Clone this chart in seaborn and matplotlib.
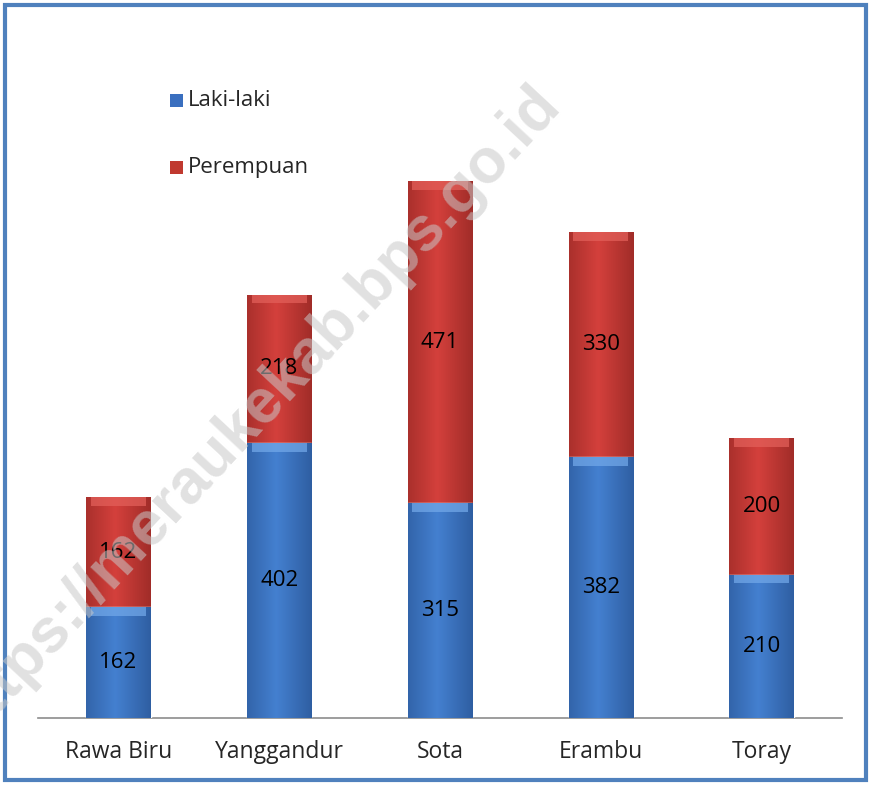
import matplotlib
matplotlib.use("Agg")
import matplotlib.pyplot as plt
from matplotlib.patches import Rectangle
import numpy as np
import pandas as pd
import seaborn as sns

# data
desa = ["Rawa Biru", "Yanggandur", "Sota", "Erambu", "Toray"]
laki = [162, 402, 315, 382, 210]
perempuan = [162, 218, 471, 330, 200]

df = pd.DataFrame({"desa": desa, "laki": laki, "perempuan": perempuan})
df["total"] = df["laki"] + df["perempuan"]

sns.set_style("white")
plt.rcParams["font.family"] = ["Open Sans", "DejaVu Sans"]

fig = plt.figure(figsize=(8.7, 7.85), dpi=100)
ax = fig.add_axes([38 / 870, (785 - 718) / 785, 804 / 870, 683 / 785])

# red stack drawn as total, blue on top of it
sns.barplot(data=df, x="desa", y="total", color="#C0392F", width=0.4,
            saturation=1, ax=ax, zorder=2)
sns.barplot(data=df, x="desa", y="laki", color="#3A6FBF", width=0.4,
            saturation=1, ax=ax, zorder=3)

# gradient / bevel look on bars
def shade(p, dark, mid, light):
    x0, y0 = p.get_x(), p.get_y()
    w, h = p.get_width(), p.get_height()
    t = np.linspace(0, 1, 64)
    prof = 1 - np.abs(t - 0.45) * 1.6
    prof = np.clip(prof, 0, 1)[None, :, None]
    dark = np.array(matplotlib.colors.to_rgb(dark))
    mid = np.array(matplotlib.colors.to_rgb(mid))
    img = dark + (mid - dark) * prof
    im = ax.imshow(img, extent=[x0, x0 + w, y0, y0 + h], aspect="auto",
                   zorder=p.get_zorder() + 0.1, interpolation="bicubic")
    im.set_clip_path(p)
    cap = min(13, h * 0.15)
    ax.add_patch(Rectangle((x0 + w * 0.07, y0 + h - cap), w * 0.86, cap,
                           facecolor=light, edgecolor="none", alpha=0.7,
                           zorder=p.get_zorder() + 0.2))

n = len(desa)
for p in ax.patches[:n]:
    shade(p, "#9A2A26", "#D4403C", "#E4615B")
for p in ax.patches[n:2 * n]:
    shade(p, "#2C5A9C", "#4480D0", "#74AAEA")

# value labels
for i in range(n):
    ax.text(i, df["laki"][i] / 2, str(df["laki"][i]), ha="center", va="center",
            fontsize=16, color="black", zorder=6)
    ax.text(i, df["laki"][i] + df["perempuan"][i] / 2, str(df["perempuan"][i]),
            ha="center", va="center", fontsize=16, color="black", zorder=6)

ax.set_xlim(-0.5, n - 0.5)
ax.set_ylim(0, 1000)
ax.set_yticks([])
ax.set_xlabel("")
ax.set_ylabel("")
for s in ["top", "right", "left"]:
    ax.spines[s].set_visible(False)
ax.spines["bottom"].set_color("#8C8C8C")
ax.spines["bottom"].set_linewidth(1.2)
ax.tick_params(axis="x", length=0, labelsize=16.5, pad=16)
ax.set_facecolor("none")

# legend
for yy, col, lab in [(100, "#3A6FBF", "Laki-laki"), (167, "#C0392F", "Perempuan")]:
    fig.patches.append(Rectangle((170 / 870, 1 - (yy + 7) / 785), 13 / 870, 13 / 785,
                                 transform=fig.transFigure, facecolor=col,
                                 edgecolor="none"))
    fig.text(188 / 870, 1 - yy / 785, lab, fontsize=16, va="center", ha="left")

# watermark
fig.text(253 / 870, 1 - 412 / 785, "https://meraukekab.bps.go.id", fontsize=45,
         fontweight="bold", color="#C8C8C8", alpha=0.55, rotation=47,
         ha="center", va="center", zorder=10, family=["Liberation Sans"])

# blue frame
fig.patches.append(Rectangle((5 / 870, 5 / 785), 861 / 870, 775 / 785,
                             transform=fig.transFigure, fill=False,
                             edgecolor="#4F81BD", linewidth=3))

fig.savefig("out.png", dpi=100)
